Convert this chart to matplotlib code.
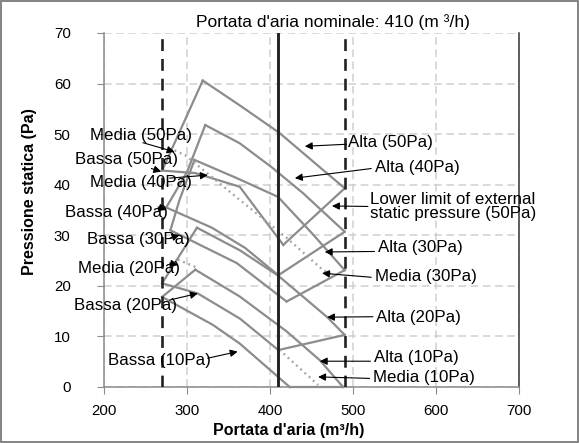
import matplotlib
matplotlib.use("Agg")
import matplotlib.pyplot as plt
from matplotlib.patches import Rectangle

plt.rcParams['font.family'] = ['Liberation Sans', 'DejaVu Sans']

# ---- solid curves (airflow m3/h, static pressure Pa) ----
alta_50_x = [319, 363.5, 411.7, 464, 490]
alta_50_y = [60.6, 55.7, 50.2, 42.9, 39.3]
alta_40_x = [322, 363.5, 401.7, 440, 490]
alta_40_y = [51.8, 48.2, 43.5, 38.3, 30.7]
alta_30_x = [309, 360, 409.6, 450, 490]
alta_30_y = [44.9, 41.3, 37.6, 30.5, 23.1]
alta_20_x = [312, 364, 410, 469, 490]
alta_20_y = [31.5, 27.0, 22.0, 13.8, 10.3]
alta_10_x = [310, 363.5, 420, 460, 488]
alta_10_y = [23.2, 17.9, 11.0, 5.3, 0.0]

left_50_x = [270, 319]
left_50_y = [42.8, 60.6]
left_40_x = [275, 300, 322]
left_40_y = [35.5, 42.5, 51.8]
left_30_x = [280, 291, 309]
left_30_y = [31.0, 37.0, 44.9]
left_20_x = [270, 312]
left_20_y = [20.5, 31.5]
left_10_x = [270, 310]
left_10_y = [17.8, 23.2]

bassa_50_x = [270, 310, 363.5, 416]
bassa_50_y = [42.8, 42.3, 39.6, 28.1]
bassa_40_x = [275, 330, 370, 410]
bassa_40_y = [35.5, 31.5, 27.5, 22.1]
bassa_30_x = [280, 291, 360, 420]
bassa_30_y = [31.0, 30.1, 24.5, 16.9]
bassa_20_x = [270, 313, 364, 410]
bassa_20_y = [20.5, 18.5, 13.5, 7.3]
bassa_10_x = [270, 331, 363.5, 423.7]
bassa_10_y = [17.8, 12.3, 8.6, 0.0]

limit_50_x = [416, 490]
limit_50_y = [28.1, 39.3]
limit_40_x = [410, 490]
limit_40_y = [22.1, 30.7]
limit_30_x = [420, 490]
limit_30_y = [16.9, 23.1]
limit_20_x = [410, 490]
limit_20_y = [7.3, 10.3]
limit_10_x = [423.7, 488]
limit_10_y = [0.0, 0.0]

# ---- dotted curves (Media), visible parts ----
media_40_x = [285, 298, 325, 363.5, 420, 464, 478]
media_40_y = [46.8, 45.8, 42.2, 37.0, 29.5, 23.1, 22.0]
media_20_x = [289, 312]
media_20_y = [25.2, 23.6]
media_10_x = [411, 415.7, 458]
media_10_y = [7.3, 6.7, 0.4]

xticks = [200, 300, 400, 500, 600, 700]
yticks = [0, 10, 20, 30, 40, 50, 60, 70]

W, H = 579, 443
fig = plt.figure(figsize=(W/100, H/100), dpi=100)
ax = fig.add_axes([104/W, 1-387/H, 415/W, 354/H])
fig.patches.append(Rectangle((0.0015, 0.002), 0.997, 0.996, transform=fig.transFigure,
                             fill=False, edgecolor='#7a7a7a', lw=1.3))

ax.set_xlim(200, 700)
ax.set_ylim(0, 70)
ax.set_xticks(xticks)
ax.set_yticks(yticks)
ax.grid(True, color='#cfcfcf', linestyle=(0, (5, 3)), lw=1.1)
ax.set_axisbelow(True)
ax.spines['top'].set_visible(False)
for s in ['left', 'bottom']:
    ax.spines[s].set_color('#8a8a8a')
    ax.spines[s].set_linewidth(1.1)
ax.spines['right'].set_color('#333333')
ax.spines['right'].set_linewidth(1.1)
ax.tick_params(axis='y', labelsize=10.8, color='#8a8a8a', length=5, pad=19)
ax.tick_params(axis='x', labelsize=10.8, color='#8a8a8a', length=5, pad=7)

gray = '#8c8c8c'
lw = 1.6
solid = [(alta_50_x, alta_50_y), (alta_40_x, alta_40_y), (alta_30_x, alta_30_y),
         (alta_20_x, alta_20_y), (alta_10_x, alta_10_y),
         (left_50_x, left_50_y), (left_40_x, left_40_y), (left_30_x, left_30_y),
         (left_20_x, left_20_y), (left_10_x, left_10_y),
         (bassa_50_x, bassa_50_y), (bassa_40_x, bassa_40_y), (bassa_30_x, bassa_30_y),
         (bassa_20_x, bassa_20_y), (bassa_10_x, bassa_10_y),
         (limit_50_x, limit_50_y), (limit_40_x, limit_40_y), (limit_30_x, limit_30_y),
         (limit_20_x, limit_20_y), (limit_10_x, limit_10_y)]
for xs, ys in solid:
    ax.plot(xs, ys, color=gray, lw=lw, solid_joinstyle='miter', clip_on=False, zorder=3)
for xs, ys in [(media_40_x, media_40_y), (media_20_x, media_20_y), (media_10_x, media_10_y)]:
    ax.plot(xs, ys, color='#a5a5a5', lw=1.7, ls=(0, (0.8, 1.6)), zorder=3)

ax.axvline(270, color='#222222', lw=1.9, ls=(0, (4.5, 3)), zorder=4)
ax.axvline(490, color='#222222', lw=1.9, ls=(0, (4.5, 3)), zorder=4)
ax.axvline(410, color='#222222', lw=2.1, zorder=4)

fig.text(333/W, 1-22/H, "Portata d'aria nominale: 410 (m \u00b3/h)", fontsize=12.5,
         ha='center', va='center')
fig.text(289/W, 1-430/H, "Portata d'aria (m\u00b3/h)", fontsize=11.5, fontweight='bold',
         ha='center', va='center')
fig.text(30/W, 1-192/H, "Pressione statica (Pa)", fontsize=11.5, fontweight='bold',
         ha='center', va='center', rotation=90)

# labels: (text, label anchor, arrow start, arrow tip)
labels_left = [
    ("Media (50Pa)", (306, 49.8), (247, 48.3), (285, 46.5)),
    ("Bassa (50Pa)", (289, 44.9), (257, 43.2), (269, 42.6)),
    ("Media (40Pa)", (306, 40.5), (279, 41.3), (325, 41.9)),
    ("Bassa (40Pa)", (277, 34.6), (265, 35.6), (275, 35.0)),
    ("Bassa (30Pa)", (303.5, 29.1), (279, 29.4), (291, 30.1)),
    ("Media (20Pa)", (291.5, 23.5), (279, 24.5), (289, 24.1)),
    ("Bassa (20Pa)", (287.6, 16.2), (279, 17.2), (313, 18.5)),
    ("Bassa (10Pa)", (328.6, 5.3), (325, 5.7), (361, 7.0)),
]
labels_right = [
    ("Alta (50Pa)", (493.6, 48.4), (492, 48.0), (442, 47.6)),
    ("Alta (40Pa)", (526, 43.5), (522, 43.2), (430, 41.3)),
    ("Lower limit of external\nstatic pressure (50Pa)", (520.1, 35.7), (518, 35.7), (474.7, 35.8)),
    ("Alta (30Pa)", (529.8, 27.5), (526, 26.8), (466, 26.7)),
    ("Media (30Pa)", (526, 21.8), (522, 21.7), (462.7, 22.5)),
    ("Alta (20Pa)", (527.3, 13.8), (524, 13.9), (468.7, 13.8)),
    ("Alta (10Pa)", (524.9, 5.9), (521, 5.1), (460, 5.1)),
    ("Media (10Pa)", (523.7, 1.8), (520, 1.7), (458, 2.0)),
]
for group, ha in [(labels_left, 'right'), (labels_right, 'left')]:
    for text, pos, start, tip in group:
        ax.text(pos[0], pos[1], text, fontsize=12.2, ha=ha, va='center', linespacing=0.95,
                zorder=6, clip_on=False)
        ax.annotate('', xy=tip, xytext=start, annotation_clip=False, zorder=7,
                    arrowprops=dict(arrowstyle='-|>', color='black', lw=0.8,
                                    mutation_scale=11, shrinkA=0, shrinkB=0))

fig.savefig('out.png', dpi=100)
